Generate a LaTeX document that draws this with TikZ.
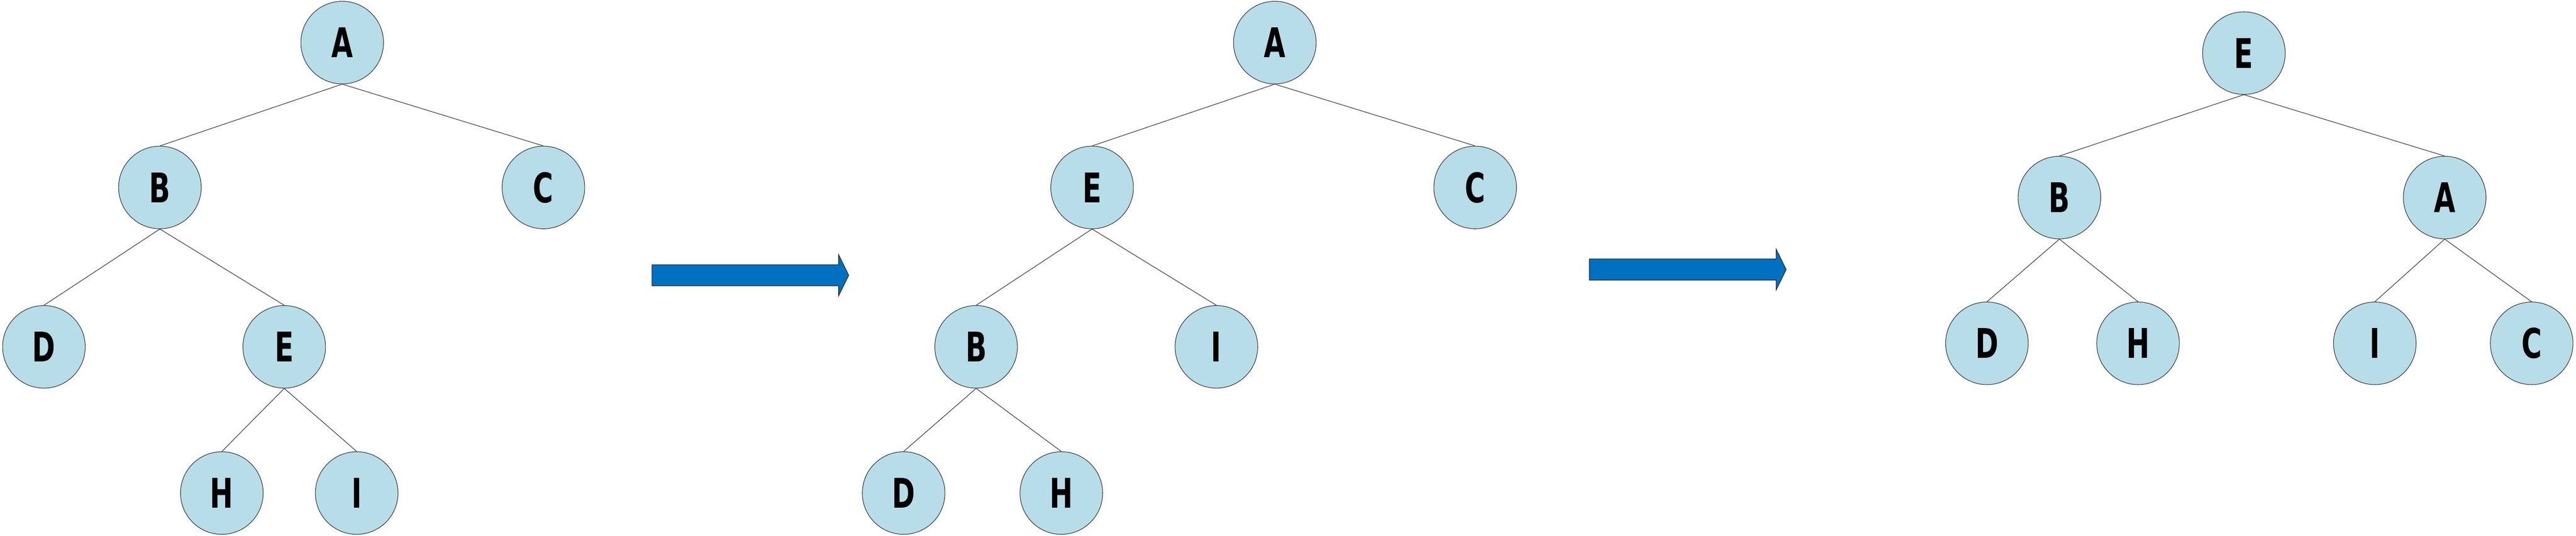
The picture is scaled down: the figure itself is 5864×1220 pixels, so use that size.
\documentclass[tikz,border=0pt]{standalone}
\usepackage{fontspec}
\newfontfamily\treefont{DejaVu Sans}[FakeStretch=0.68]
\definecolor{nodeblue}{HTML}{B7DDE8}
\definecolor{arrowblue}{HTML}{0070C0}
\definecolor{linegray}{HTML}{2A2A2A}
\begin{document}
\begin{tikzpicture}[x=0.01cm, y=-0.01cm,
  treenode/.style={circle, draw=linegray, line width=0.35pt, fill=nodeblue,
    minimum size=1.88cm, inner sep=0pt,
    font={\treefont\bfseries\fontsize{26.5}{30}\selectfont}},
  treeedge/.style={draw=linegray, line width=0.35pt},
  bigarrow/.style={draw=black!85, line width=0.4pt, fill=arrowblue}]
  \useasboundingbox (0,0) rectangle (5864,1220);
  % first tree
  \node [treenode] (a1) at (779,97) {A};
  \node [treenode] (b1) at (364,427) {B};
  \node [treenode] (c1) at (1237,427) {C};
  \node [treenode] (d1) at (100,790) {D};
  \node [treenode] (e1) at (647,790) {E};
  \node [treenode] (h1) at (505,1123) {H};
  \node [treenode] (i1) at (812,1123) {I};
  % second tree
  \node [treenode] (a2) at (2902,97) {A};
  \node [treenode] (e2) at (2486,427) {E};
  \node [treenode] (c2) at (3358,427) {C};
  \node [treenode] (b2) at (2222,790) {B};
  \node [treenode] (i2) at (2769,790) {I};
  \node [treenode] (d2) at (2057,1123) {D};
  \node [treenode] (h2) at (2416,1123) {H};
  % third tree
  \node [treenode] (e3) at (5108,121) {E};
  \node [treenode] (b3) at (4688,450) {B};
  \node [treenode] (a3) at (5565,450) {A};
  \node [treenode] (d3) at (4523,782) {D};
  \node [treenode] (h3) at (4867,782) {H};
  \node [treenode] (i3) at (5406,782) {I};
  \node [treenode] (c3) at (5763,782) {C};
  \foreach \p/\c in {a1/b1, a1/c1, b1/d1, b1/e1, e1/h1, e1/i1,
                     a2/e2, a2/c2, e2/b2, e2/i2, b2/d2, b2/h2,
                     e3/b3, e3/a3, b3/d3, b3/h3, a3/i3, a3/c3}
  \draw [treeedge] (\p.south) -- (\c.north);
  % block arrows
  \foreach \ax/\ay in {1484/627, 3618/614}
  \draw [bigarrow] (\ax,\ay-24) -- ++(425,0) -- ++(0,-23) -- (\ax+448,\ay)
    -- (\ax+425,\ay+47) -- ++(0,-23) -- (\ax,\ay+24) -- cycle;
\end{tikzpicture}
\end{document}
